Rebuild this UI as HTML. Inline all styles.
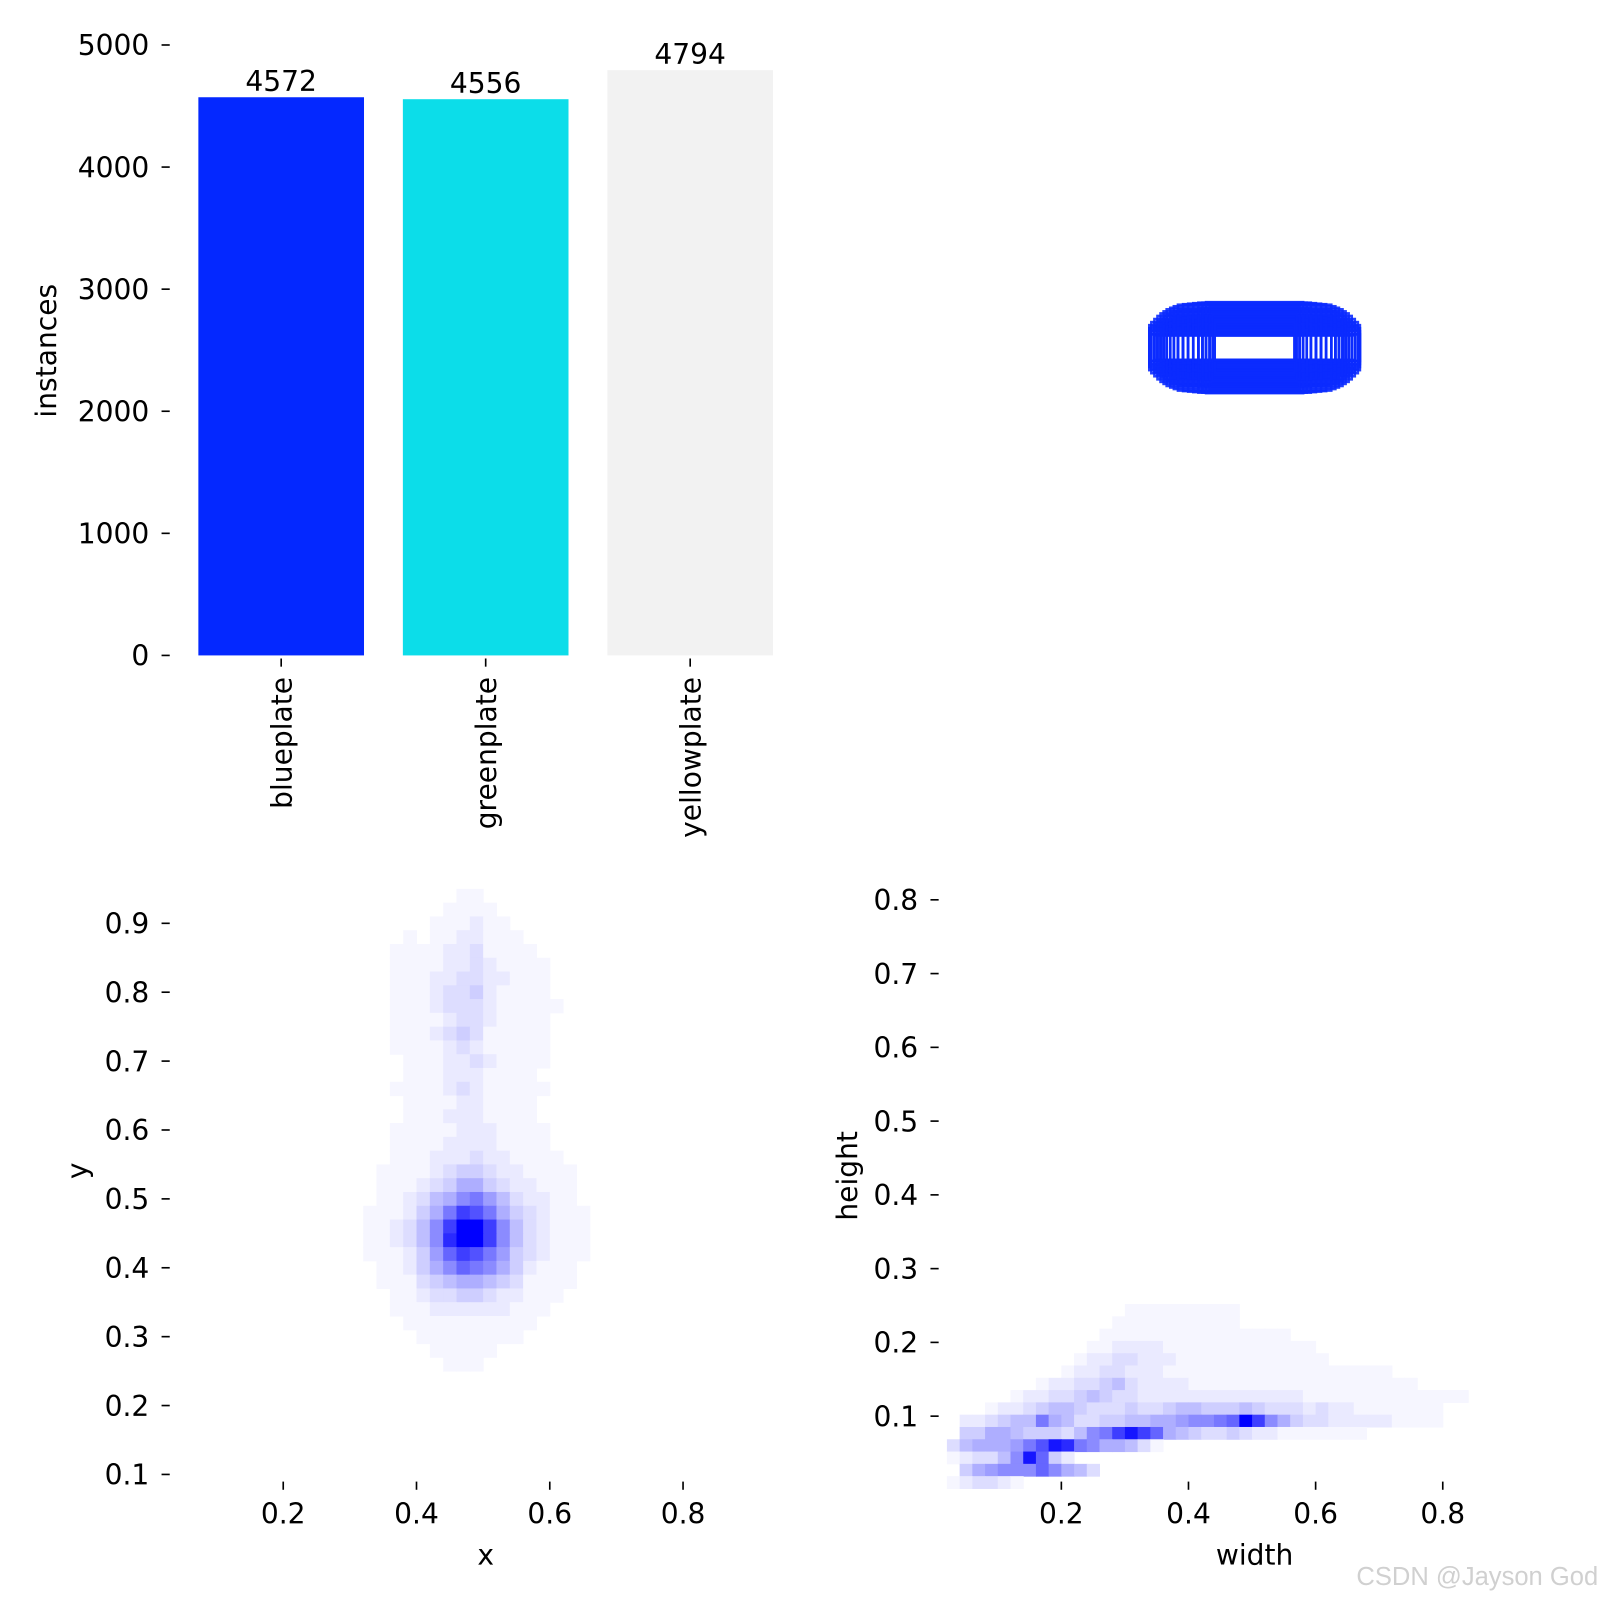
<!DOCTYPE html>
<html><head><meta charset="utf-8"><style>
html,body{margin:0;padding:0;background:#fff;}
svg{display:block;font-family:"DejaVu Sans","Liberation Sans",sans-serif;}
</style></head><body>
<svg id="root" width="1600" height="1600" viewBox="0 0 1564.8 1564.8" xmlns="http://www.w3.org/2000/svg">
<g id="bar"></g>
<g id="boxes"></g>
<g id="xy"></g>
<g id="wh"></g>
<text x="1563" y="1550" text-anchor="end" font-size="25" fill="#d0d0d0" font-family="Liberation Sans, sans-serif">CSDN @Jayson God</text>
</svg>
<script>
// ---- bar chart data ----
const categories = ["blueplate","greenplate","yellowplate"];
const instances = [4572,4556,4794];
const barColors = ["#0428ff","#0cdde9","#f2f2f2"];
const barTicks = [0,1000,2000,3000,4000,5000];
// ---- box overlay data (w,h in px units, centered) ----
const boxW = [206,206,206,206,202,202,202,202,196,196,196,196,196,190,190,190,190,190,184,184,184,184,184,178,178,178,178,178,178,172,172,172,172,172,165,165,165,165,165,165,158,158,158,158,158,150,150,150,150,150,150,140,140,140,140,140,130,130,130,130,130,120,120,120,120,120,110,110,110,110,110,102,102,102,102,95,95,95,95,95,88,88,88,88,82,82,82,78,78];
const boxH = [44,38,32,26,50,42,34,26,56,48,40,32,24,62,52,42,32,24,67,57,47,37,27,71,62,52,42,32,24,75,65,53,41,29,78,70,60,48,36,26,81,71,59,45,31,84,74,62,50,38,26,85,72,58,44,30,86,74,60,46,30,87,74,60,44,28,88,76,62,46,30,88,72,54,34,89,76,62,46,28,80,62,44,26,66,46,26,50,24];
// ---- xy heatmap data (x 0.30..0.70 step .02, rows y .95 down step .02) ----
const xyRows = [
"00000000110000000000","00000001111000000000","00000011121100000000","00001011221110000000",
"00011112231111000000","00011112232111100000","00011122332211100000","00011123342111100000",
"00011123332111110000","00011112332111100000","00011123431111100000","00011112321111100000",
"00001112232111100000","00001112221111000000","00011112321111100000","00001111221111000000",
"00001112221111000000","00011111222111100000","00011112222111100000","00011122232211110000",
"00111123443221111000","00111234664322111000","00112356897532211000","01112469cb9643211100",
"0112358cffc853211100","0112358dffc853211100","0111247acb9743211100","00112468a98642111000",
"00111345665431111000","00011233443221110000","00011122222211100000","00001111111111000000",
"00000111111110000000","00000011111000000000","00000001110000000000"];
// ---- wh heatmap data (width 0..1 step .02, rows top->bottom, height step 1/60 from 0.002) ----
const whRows = [
"00000000000000011111111100000000000000000000000000",
"00000000000000111111111100000000000000000000000000",
"00000000000001111111111111110000000000000000000000",
"00000000000011222211111111111100000000000000000000",
"00000000000122332221111111111110000000000000000000",
"00000000001223322211111111111111111100000000000000",
"00000000122334532222111111111111111111000000000000",
"00000012233454332222222222222111111111111100000000",
"00001223455433343345544454333232211111110000000000",
"0022345596533445566788 9afc86433222221111".replace(" ","").padEnd(50,"0"),
"00446654443589ceca6543343221111111".padEnd(50,"0"),
"03566679bed986653100000000000000000000000000000000",
"0123358ea42000000000000000000000000000000000000000",
"00467888a8653".padEnd(50,"0"),
"01233210000000000000000000000000000000000000000000"];
const xyTicksX=[0.2,0.4,0.6,0.8], xyTicksY=[0.1,0.2,0.3,0.4,0.5,0.6,0.7,0.8,0.9];
const whTicksX=[0.2,0.4,0.6,0.8], whTicksY=[0.1,0.2,0.3,0.4,0.5,0.6,0.7,0.8];

const NS="http://www.w3.org/2000/svg";
function mk(parent,tag,attrs,text){const e=document.createElementNS(NS,tag);for(const k in attrs)e.setAttribute(k,attrs[k]);if(text!==undefined)e.textContent=text;parent.appendChild(e);return e;}
function col(v){const t=Math.pow(v/15,1.25);const c=Math.round(255*(1-t));return `rgb(${c},${c},255)`;}

// ---- bar chart ----
(function(){
 const g=document.getElementById('bar');
 const yS=v=>641-v*(597/5000);
 const xC=i=>275+i*200;
 barTicks.forEach(t=>{
  const tk=mk(g,'line',{x1:158,x2:166,y1:yS(t),y2:yS(t),stroke:'#000','stroke-width':1.6});
  
  
  const lb=mk(g,'text',{x:146,y:yS(t)+10,'text-anchor':'end','font-size':27.5},String(t));
  
  
 });
 categories.forEach((c,i)=>{
  const r=mk(g,'rect',{x:xC(i)-81,y:yS(instances[i]),width:162,height:yS(0)-yS(instances[i]),fill:barColors[i]});
  
  
  const v=mk(g,'text',{x:xC(i),y:yS(instances[i])-6,'text-anchor':'middle','font-size':27.5},String(instances[i]));
  
  
  const tk=mk(g,'line',{x1:xC(i),x2:xC(i),y1:644,y2:652,stroke:'#000','stroke-width':1.6});
  
  
  const lb=mk(g,'text',{x:0,y:0,'text-anchor':'end','font-size':27.5,transform:`translate(${xC(i)+10},662) rotate(-90)`},c);
  
  
 });
 const yl=mk(g,'text',{x:0,y:0,'text-anchor':'middle','font-size':27.5,transform:'translate(55,343) rotate(-90)'},'instances');
 
 
})();

// ---- box overlay ----
(function(){
 const g=document.getElementById('boxes');
 const cx=1227, cy=340;
 boxW.forEach((w,i)=>{
  const h=boxH[i];
  const r=mk(g,'rect',{x:cx-w/2,y:cy-h/2,width:w,height:h,fill:'none',stroke:'#0b2bff','stroke-width':2.5,'stroke-opacity':0.9});
  
  
 });
})();

// ---- heatmap axes helper ----
function axes(g,xs,ys,tx,ty,xTitle,yTitle,xTitlePos,yTitlePos){
 tx.forEach(t=>{
  const l=mk(g,'line',{x1:xs(t),x2:xs(t),y1:1449,y2:1457,stroke:'#000','stroke-width':1.6});
  
  
  const s=mk(g,'text',{x:xs(t),y:1490,'text-anchor':'middle','font-size':27.5},t.toFixed(1));
  
  
 });
 ty.forEach(t=>{
  const x0=yTitlePos[2];
  const l=mk(g,'line',{x1:x0,x2:x0+8,y1:ys(t),y2:ys(t),stroke:'#000','stroke-width':1.6});
  
  
  const s=mk(g,'text',{x:x0-12,y:ys(t)+10,'text-anchor':'end','font-size':27.5},t.toFixed(1));
  
  
 });
 const xt=mk(g,'text',{x:xTitlePos[0],y:xTitlePos[1],'text-anchor':'middle','font-size':27.5},xTitle);
 
 
 const yt=mk(g,'text',{x:0,y:0,'text-anchor':'middle','font-size':27.5,transform:`translate(${yTitlePos[0]},${yTitlePos[1]}) rotate(-90)`},yTitle);
 
 
}

// ---- xy heatmap ----
(function(){
 const g=document.getElementById('xy');
 const xs=v=>277+(v-0.2)*651.7;
 const ys=v=>1442-(v-0.1)*673.75;
 const cells=mk(g,'g',{});
 
 
 xyRows.forEach((row,r)=>{
  const yTop=0.95-0.02*r;
  for(let c=0;c<row.length;c++){
   const v=parseInt(row[c],16); if(!v) continue;
   const x0=0.30+0.02*c;
   const e=mk(cells,'rect',{x:xs(x0),y:ys(yTop),width:xs(x0+0.02)-xs(x0)+0.5,height:ys(yTop-0.02)-ys(yTop)+0.5,fill:col(v)});
   
   
  }
 });
 axes(g,xs,ys,xyTicksX,xyTicksY,'x','y',[475,1530],[85,1145,158]);
})();

// ---- wh heatmap ----
(function(){
 const g=document.getElementById('wh');
 const xs=v=>1038+(v-0.2)*621.7;
 const ys=v=>1385-(v-0.1)*721.4;
 const cells=mk(g,'g',{});
 
 
 const n=whRows.length;
 whRows.forEach((row,r)=>{
  const hTop=0.002+(n-r)/60;
  for(let c=0;c<row.length;c++){
   const v=parseInt(row[c],16); if(!v) continue;
   const x0=0.02*c;
   const e=mk(cells,'rect',{x:xs(x0),y:ys(hTop),width:xs(x0+0.02)-xs(x0)+0.5,height:ys(hTop-1/60)-ys(hTop)+0.5,fill:col(v)});
   
   
  }
 });
 axes(g,xs,ys,whTicksX,whTicksY,'width','height',[1227,1530],[838,1150,910]);
})();
</script>
</body></html>
